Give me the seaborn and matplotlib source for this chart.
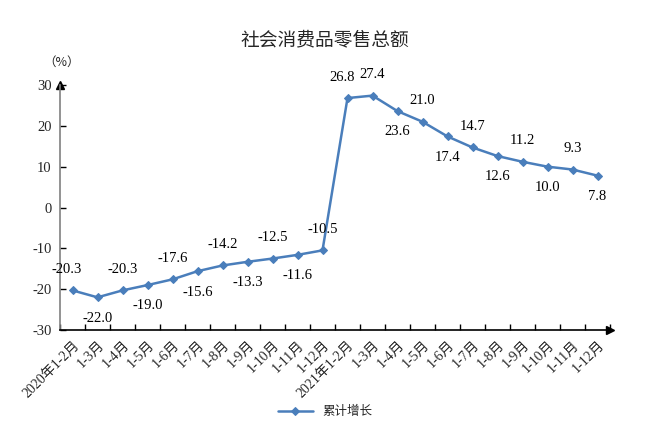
import matplotlib
matplotlib.use("Agg")
import matplotlib.pyplot as plt
import seaborn as sns
import pandas as pd

categories = ["2020年1-2月", "1-3月", "1-4月", "1-5月", "1-6月", "1-7月", "1-8月", "1-9月",
              "1-10月", "1-11月", "1-12月", "2021年1-2月", "1-3月", "1-4月", "1-5月", "1-6月",
              "1-7月", "1-8月", "1-9月", "1-10月", "1-11月", "1-12月"]
values = [-20.3, -22.0, -20.3, -19.0, -17.6, -15.6, -14.2, -13.3, -12.5, -11.6, -10.5,
          26.8, 27.4, 23.6, 21.0, 17.4, 14.7, 12.6, 11.2, 10.0, 9.3, 7.8]
label_pos = ["up", "down", "up", "down", "up", "down", "up", "down", "up", "down", "up",
             "up", "up", "down", "up", "down", "up", "down", "up", "down", "up", "down"]
yticks = [-30, -20, -10, 0, 10, 20, 30]

sns.set_theme(style="white")
plt.rcParams["font.family"] = ["Liberation Serif", "Noto Sans CJK SC", "DejaVu Sans"]

color = "#4a7ebb"
df = pd.DataFrame({"idx": list(range(len(values))), "val": values, "series": "累计增长"})

fig = plt.figure(figsize=(6.5, 4.48), dpi=100)
ax = fig.add_axes([60 / 650, 1 - 330 / 448, 550 / 650, 245 / 448])

sns.lineplot(data=df, x="idx", y="val", hue="series", palette=[color], marker="D",
             markersize=4, markeredgecolor=color, linewidth=1.8, ax=ax, legend=True)

ax.set_xlim(-0.5, len(values) - 0.5)
ax.set_ylim(-30, 30)
ax.set_yticks(yticks)
ax.set_yticklabels([str(t) for t in yticks], fontsize=10.5)
ax.set_xticks(range(len(categories)))
ax.set_xticklabels(categories, rotation=45, ha="right", rotation_mode="anchor", fontsize=10)
ax.set_xticks([i + 0.5 for i in range(-1, len(values))], minor=True)
ax.tick_params(axis="x", which="major", length=0, pad=6)
ax.tick_params(axis="x", which="minor", direction="in", length=4, width=1, color="black", bottom=True)
ax.tick_params(axis="y", direction="in", length=4, width=1, color="black", left=True, pad=6)
ax.set_xlabel("")
ax.set_ylabel("")

for s in ["top", "right"]:
    ax.spines[s].set_visible(False)
ax.spines["left"].set_color("#808080")
ax.spines["left"].set_linewidth(1.2)
ax.spines["bottom"].set_color("black")
ax.spines["bottom"].set_linewidth(1.2)
ax.plot(0, 1, "^", color="black", markersize=6, transform=ax.transAxes, clip_on=False)
ax.plot(1, 0, ">", color="black", markersize=6, transform=ax.transAxes, clip_on=False)

for i, (v, p) in enumerate(zip(values, label_pos)):
    dx = -4 if i in (0, 11) else 0
    off = 15 if p == "up" else -15
    ax.annotate(f"{v:.1f}", (i, v), xytext=(dx, off), textcoords="offset points",
                ha="center", va="center", fontsize=10.5, color="black")

fig.text(325 / 650, 1 - 40 / 448, "社会消费品零售总额", ha="center", va="center",
         fontsize=13.5, family=["Noto Sans CJK SC"])
fig.text(62 / 650, 1 - 62 / 448, "（%）", ha="center", va="center", fontsize=9,
         family=["Noto Sans CJK SC"])

leg = ax.legend(loc="center", bbox_to_anchor=(325 / 650, 1 - 412 / 448),
                bbox_transform=fig.transFigure, frameon=False,
                prop={"family": ["Noto Sans CJK SC"], "size": 9}, handlelength=2.8)

fig.savefig("out.png", dpi=100)
